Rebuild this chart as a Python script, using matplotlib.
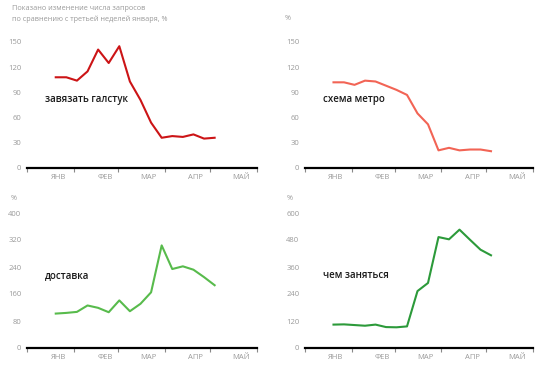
import matplotlib.pyplot as plt
import numpy as np

plt.rcParams['font.family'] = ['Open Sans', 'DejaVu Sans']

# weekly points, days counted from 1 January
week_days = [19 + 7 * i for i in range(16)]

tie = [108, 108, 104, 115, 141, 125, 145, 103, 81, 54, 36, 38, 37, 40, 35, 36]
metro = [102, 102, 99, 104, 103, 98, 93, 87, 65, 52, 21, 24, 21, 22, 22, 20]
delivery = [102, 104, 107, 126, 119, 106, 141, 109, 131, 165, 304, 234, 242, 232, 210, 186]
todo = [104, 105, 102, 99, 104, 93, 92, 96, 253, 289, 493, 483, 526, 481, 437, 412]

month_starts = [0, 31, 60, 91, 121, 152]
month_labels = ['ЯНВ', 'ФЕВ', 'МАР', 'АПР', 'МАЙ']

panels = [
    # left, bottom, width, height (px), series, label, colour, yticks
    (27, 168, 230, 126, tie, 'завязать галстук', '#cc1416', [0, 30, 60, 90, 120, 150]),
    (305, 168, 228, 126, metro, 'схема метро', '#f26455', [0, 30, 60, 90, 120, 150]),
    (27, 348, 230, 135, delivery, 'доставка', '#58bb4c', [0, 80, 160, 240, 320, 400]),
    (305, 348, 228, 135, todo, 'чем заняться', '#2c9a3a', [0, 120, 240, 360, 480, 600]),
]

W, H = 548, 374
fig = plt.figure(figsize=(W / 100, H / 100), dpi=100)

for left, base, width, height, values, name, color, yticks in panels:
    ax = fig.add_axes([left / W, (H - base) / H, width / W, height / H])
    ax.plot(week_days, values, color=color, lw=1.5, clip_on=False)
    ax.set_xlim(0, 152)
    ax.set_ylim(0, yticks[-1])
    ax.set_yticks(yticks)
    ax.set_yticklabels([str(t) for t in yticks])
    ax.set_xticks([d + 20.5 for d in month_starts[:-1]])
    ax.set_xticklabels(month_labels)
    ax.set_xticks(month_starts, minor=True)
    ax.tick_params(axis='x', which='major', length=0, pad=4, labelsize=5.5, colors='#9a9a9a')
    ax.tick_params(axis='x', which='minor', length=3, width=0.8, color='#888888')
    ax.tick_params(axis='y', length=0, pad=4, labelsize=5.5, colors='#9a9a9a')
    for s in ['top', 'right', 'left']:
        ax.spines[s].set_visible(False)
    ax.spines['bottom'].set_linewidth(1.6)
    ax.spines['bottom'].set_color('black')
    ax.text(0.078, 0.54, name, transform=ax.transAxes, fontsize=7,
            fontweight='semibold', color='#1a1a1a', va='center', ha='left')

fig.text(12 / W, 1 - 9 / H, 'Показано изменение числа запросов', fontsize=5.2,
         color='#9a9a9a', va='center', ha='left')
fig.text(12 / W, 1 - 19 / H, 'по сравнению с третьей неделей января, %', fontsize=5.2,
         color='#9a9a9a', va='center', ha='left')
fig.text(285 / W, 1 - 19 / H, '%', fontsize=5.2, color='#9a9a9a', va='center', ha='left')
fig.text(11 / W, 1 - 199 / H, '%', fontsize=5.2, color='#9a9a9a', va='center', ha='left')
fig.text(287 / W, 1 - 199 / H, '%', fontsize=5.2, color='#9a9a9a', va='center', ha='left')

fig.savefig('out.png', dpi=100)
